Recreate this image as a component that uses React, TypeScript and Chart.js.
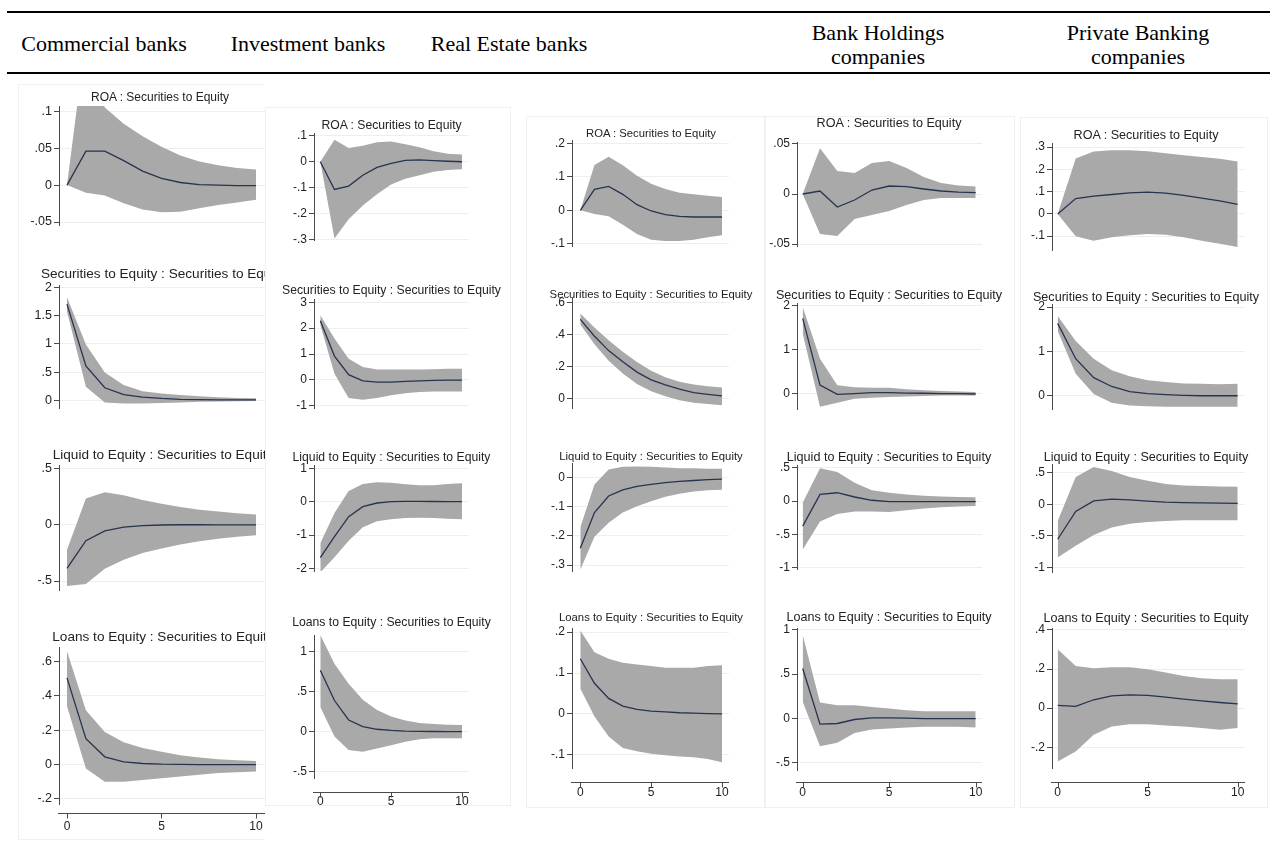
import React, { useEffect, useRef } from "react";
import { Chart, registerables } from "chart.js";
Chart.register(...registerables);

// ---------------- DATA ----------------
const steps = [0, 1, 2, 3, 4, 5, 6, 7, 8, 9, 10];
const xTickValues = [0, 5, 10];
const xTickLabels = ["0", "5", "10"];

const groupHeaders = [
  ["Commercial banks"],
  ["Investment banks"],
  ["Real Estate banks"],
  ["Bank Holdings", "companies"],
  ["Private Banking", "companies"],
];
const panelTitles = [
  "ROA : Securities to Equity",
  "Securities to Equity : Securities to Equity",
  "Liquid to Equity : Securities to Equity",
  "Loans to Equity : Securities to Equity",
];

// Commercial banks
const comRoaMean = [0, 0.046, 0.046, 0.033, 0.019, 0.009, 0.0035, 0.0007, 0, -0.0007, -0.0007];
const comRoaUp = [0, 0.2, 0.105, 0.083, 0.066, 0.052, 0.04, 0.032, 0.027, 0.023, 0.021];
const comRoaLo = [0, -0.0105, -0.014, -0.0245, -0.033, -0.0367, -0.036, -0.0315, -0.027, -0.0234, -0.02];
const comSecMean = [1.71, 0.61, 0.22, 0.1, 0.055, 0.03, 0.015, 0.01, 0.006, 0.004, 0.003];
const comSecUp = [1.83, 0.99, 0.49, 0.27, 0.16, 0.12, 0.09, 0.07, 0.05, 0.04, 0.035];
const comSecLo = [1.58, 0.24, -0.04, -0.06, -0.06, -0.05, -0.04, -0.03, -0.025, -0.02, -0.015];
const comLiqMean = [-0.387, -0.14, -0.052, -0.02, -0.006, 0, 0.002, 0.002, 0.001, 0.001, 0.001];
const comLiqUp = [-0.22, 0.237, 0.293, 0.265, 0.223, 0.19, 0.16, 0.136, 0.12, 0.105, 0.094];
const comLiqLo = [-0.545, -0.526, -0.39, -0.31, -0.25, -0.21, -0.174, -0.146, -0.122, -0.105, -0.092];
const comLoanMean = [0.505, 0.151, 0.045, 0.016, 0.006, 0.002, 0.001, 0, 0, 0, 0];
const comLoanUp = [0.66, 0.317, 0.19, 0.13, 0.097, 0.074, 0.054, 0.041, 0.031, 0.025, 0.021];
const comLoanLo = [0.34, -0.023, -0.1, -0.1, -0.09, -0.08, -0.07, -0.06, -0.05, -0.045, -0.04];

// Investment banks
const invRoaMean = [0, -0.107, -0.094, -0.052, -0.022, -0.006, 0.005, 0.007, 0.004, 0.002, 0];
const invRoaUp = [0, 0.085, 0.053, 0.062, 0.075, 0.078, 0.068, 0.056, 0.041, 0.031, 0.028];
const invRoaLo = [0, -0.296, -0.222, -0.169, -0.125, -0.088, -0.066, -0.052, -0.039, -0.032, -0.029];
const invSecMean = [2.29, 0.92, 0.2, -0.04, -0.09, -0.09, -0.06, -0.04, -0.02, -0.01, -0.01];
const invSecUp = [2.5, 1.6, 0.82, 0.5, 0.4, 0.4, 0.4, 0.4, 0.41, 0.43, 0.43];
const invSecLo = [2.12, 0.24, -0.7, -0.77, -0.7, -0.6, -0.52, -0.47, -0.45, -0.45, -0.45];
const invLiqMean = [-1.68, -1.05, -0.45, -0.15, -0.04, 0, 0.01, 0.01, 0.005, 0, 0];
const invLiqUp = [-1.25, -0.34, 0.32, 0.53, 0.58, 0.57, 0.52, 0.49, 0.49, 0.53, 0.55];
const invLiqLo = [-2.12, -1.67, -1.17, -0.77, -0.59, -0.53, -0.49, -0.48, -0.49, -0.51, -0.53];
const invLoanMean = [0.77, 0.39, 0.146, 0.063, 0.03, 0.017, 0.008, 0.004, 0.002, 0.001, 0];
const invLoanUp = [1.21, 0.85, 0.6, 0.4, 0.27, 0.19, 0.14, 0.11, 0.095, 0.088, 0.083];
const invLoanLo = [0.31, -0.06, -0.23, -0.25, -0.21, -0.17, -0.125, -0.095, -0.083, -0.083, -0.083];

// Real Estate banks
const reRoaMean = [0, 0.063, 0.072, 0.048, 0.017, -0.002, -0.013, -0.018, -0.02, -0.02, -0.02];
const reRoaUp = [0, 0.136, 0.161, 0.135, 0.104, 0.08, 0.064, 0.053, 0.048, 0.044, 0.04];
const reRoaLo = [0, -0.011, -0.018, -0.043, -0.071, -0.088, -0.092, -0.092, -0.088, -0.081, -0.075];
const reSecMean = [0.496, 0.39, 0.3, 0.23, 0.165, 0.117, 0.085, 0.058, 0.037, 0.026, 0.016];
const reSecUp = [0.533, 0.445, 0.365, 0.293, 0.229, 0.173, 0.133, 0.104, 0.088, 0.077, 0.069];
const reSecLo = [0.464, 0.34, 0.237, 0.157, 0.09, 0.045, 0.013, -0.011, -0.027, -0.035, -0.043];
const reLiqMean = [-0.242, -0.12, -0.063, -0.042, -0.03, -0.023, -0.017, -0.013, -0.01, -0.007, -0.005];
const reLiqUp = [-0.17, -0.024, 0.028, 0.037, 0.038, 0.037, 0.035, 0.032, 0.032, 0.03, 0.03];
const reLiqLo = [-0.316, -0.203, -0.155, -0.12, -0.098, -0.081, -0.066, -0.055, -0.048, -0.043, -0.042];
const reLoanMean = [0.135, 0.075, 0.038, 0.019, 0.011, 0.007, 0.005, 0.003, 0.002, 0.001, 0];
const reLoanUp = [0.204, 0.151, 0.135, 0.125, 0.121, 0.117, 0.113, 0.113, 0.113, 0.117, 0.119];
const reLoanLo = [0.062, -0.006, -0.055, -0.083, -0.091, -0.097, -0.101, -0.104, -0.106, -0.11, -0.118];

// Bank Holdings companies
const bhRoaMean = [0, 0.003, -0.013, -0.006, 0.004, 0.008, 0.0073, 0.005, 0.003, 0.0018, 0.0013];
const bhRoaUp = [0, 0.0457, 0.023, 0.021, 0.031, 0.033, 0.026, 0.017, 0.011, 0.0085, 0.0075];
const bhRoaLo = [0, -0.04, -0.042, -0.025, -0.021, -0.017, -0.011, -0.006, -0.004, -0.004, -0.004];
const bhSecMean = [1.71, 0.2, -0.01, 0.01, 0.03, 0.03, 0.02, 0.017, 0.01, 0.006, 0];
const bhSecUp = [1.97, 0.8, 0.2, 0.15, 0.14, 0.14, 0.11, 0.086, 0.069, 0.057, 0.046];
const bhSecLo = [1.37, -0.29, -0.2, -0.11, -0.086, -0.07, -0.057, -0.046, -0.034, -0.034, -0.034];
const bhLiqMean = [-0.376, 0.098, 0.124, 0.06, 0.011, -0.008, -0.008, -0.008, -0.008, -0.008, -0.008];
const bhLiqUp = [-0.026, 0.493, 0.436, 0.274, 0.162, 0.124, 0.098, 0.079, 0.068, 0.06, 0.056];
const bhLiqLo = [-0.733, -0.308, -0.195, -0.158, -0.158, -0.165, -0.139, -0.113, -0.094, -0.083, -0.075];
const bhLoanMean = [0.564, -0.064, -0.056, -0.011, 0.008, 0.008, 0.004, 0, 0, 0, 0];
const bhLoanUp = [0.94, 0.18, 0.15, 0.15, 0.13, 0.113, 0.094, 0.083, 0.083, 0.083, 0.083];
const bhLoanLo = [0.188, -0.312, -0.274, -0.162, -0.124, -0.113, -0.1, -0.094, -0.094, -0.094, -0.1];

// Private Banking companies
const pbRoaMean = [0, 0.069, 0.08, 0.087, 0.094, 0.098, 0.093, 0.083, 0.071, 0.058, 0.043];
const pbRoaUp = [0, 0.249, 0.28, 0.286, 0.286, 0.281, 0.272, 0.263, 0.255, 0.247, 0.235];
const pbRoaLo = [0, -0.1, -0.12, -0.105, -0.096, -0.09, -0.094, -0.105, -0.12, -0.134, -0.149];
const pbSecMean = [1.63, 0.83, 0.4, 0.2, 0.086, 0.04, 0.017, 0, -0.01, -0.01, -0.01];
const pbSecUp = [1.8, 1.23, 0.83, 0.57, 0.43, 0.34, 0.3, 0.27, 0.26, 0.25, 0.26];
const pbSecLo = [1.46, 0.49, 0.03, -0.17, -0.23, -0.25, -0.26, -0.26, -0.26, -0.26, -0.26];
const pbLiqMean = [-0.553, -0.115, 0.053, 0.082, 0.07, 0.049, 0.033, 0.025, 0.02, 0.016, 0.012];
const pbLiqUp = [-0.266, 0.43, 0.586, 0.525, 0.43, 0.369, 0.32, 0.295, 0.287, 0.279, 0.275];
const pbLiqLo = [-0.84, -0.656, -0.484, -0.369, -0.307, -0.279, -0.266, -0.254, -0.254, -0.254, -0.254];
const pbLoanMean = [0.014, 0.009, 0.043, 0.063, 0.068, 0.065, 0.056, 0.046, 0.037, 0.029, 0.022];
const pbLoanUp = [0.301, 0.216, 0.204, 0.209, 0.209, 0.199, 0.182, 0.165, 0.153, 0.148, 0.148];
const pbLoanLo = [-0.273, -0.221, -0.136, -0.094, -0.082, -0.082, -0.089, -0.094, -0.102, -0.111, -0.102];

// y tick values / labels / axis ranges per column (rows: ROA, Securities, Liquid, Loans)
const comTicks = [[-0.05, 0, 0.05, 0.1], [0, 0.5, 1, 1.5, 2], [-0.5, 0, 0.5], [-0.2, 0, 0.2, 0.4, 0.6]];
const comTickLabels = [["-.05", "0", ".05", ".1"], ["0", ".5", "1", "1.5", "2"], ["-.5", "0", ".5"], ["-.2", "0", ".2", ".4", ".6"]];
const comRanges = [[-0.054, 0.107], [-0.14, 2.05], [-0.58, 0.535], [-0.23, 0.685]];

const invTicks = [[-0.3, -0.2, -0.1, 0, 0.1], [-1, 0, 1, 2, 3], [-2, -1, 0, 1], [-0.5, 0, 0.5, 1]];
const invTickLabels = [["-.3", "-.2", "-.1", "0", ".1"], ["-1", "0", "1", "2", "3"], ["-2", "-1", "0", "1"], ["-.5", "0", ".5", "1"]];
const invRanges = [[-0.302, 0.111], [-1.09, 3.13], [-2.08, 1.1], [-0.58, 1.21]];

const reTicks = [[-0.1, 0, 0.1, 0.2], [0, 0.2, 0.4, 0.6], [-0.3, -0.2, -0.1, 0], [-0.1, 0, 0.1, 0.2]];
const reTickLabels = [["-.1", "0", ".1", ".2"], ["0", ".2", ".4", ".6"], ["-.3", "-.2", "-.1", "0"], ["-.1", "0", ".1", ".2"]];
const reRanges = [[-0.107, 0.211], [-0.06, 0.63], [-0.32, 0.05], [-0.132, 0.21]];

const bhTicks = [[-0.05, 0, 0.05], [0, 1, 2], [-1, -0.5, 0, 0.5], [-0.5, 0, 0.5, 1]];
const bhTickLabels = [["-.05", "0", ".05"], ["0", "1", "2"], ["-1", "-.5", "0", ".5"], ["-.5", "0", ".5", "1"]];
const bhRanges = [[-0.052, 0.052], [-0.34, 2.06], [-1.02, 0.54], [-0.58, 1.02]];

const pbTicks = [[-0.1, 0, 0.1, 0.2, 0.3], [0, 1, 2], [-1, -0.5, 0, 0.5], [-0.2, 0, 0.2, 0.4]];
const pbTickLabels = [["-.1", "0", ".1", ".2", ".3"], ["0", "1", "2"], ["-1", "-.5", "0", ".5"], ["-.2", "0", ".2", ".4"]];
const pbRanges = [[-0.162, 0.318], [-0.31, 2.07], [-1.07, 0.635], [-0.306, 0.41]];

const columnSeries = [
  { mean: [comRoaMean, comSecMean, comLiqMean, comLoanMean], up: [comRoaUp, comSecUp, comLiqUp, comLoanUp], lo: [comRoaLo, comSecLo, comLiqLo, comLoanLo], ticks: comTicks, labels: comTickLabels, ranges: comRanges },
  { mean: [invRoaMean, invSecMean, invLiqMean, invLoanMean], up: [invRoaUp, invSecUp, invLiqUp, invLoanUp], lo: [invRoaLo, invSecLo, invLiqLo, invLoanLo], ticks: invTicks, labels: invTickLabels, ranges: invRanges },
  { mean: [reRoaMean, reSecMean, reLiqMean, reLoanMean], up: [reRoaUp, reSecUp, reLiqUp, reLoanUp], lo: [reRoaLo, reSecLo, reLiqLo, reLoanLo], ticks: reTicks, labels: reTickLabels, ranges: reRanges },
  { mean: [bhRoaMean, bhSecMean, bhLiqMean, bhLoanMean], up: [bhRoaUp, bhSecUp, bhLiqUp, bhLoanUp], lo: [bhRoaLo, bhSecLo, bhLiqLo, bhLoanLo], ticks: bhTicks, labels: bhTickLabels, ranges: bhRanges },
  { mean: [pbRoaMean, pbSecMean, pbLiqMean, pbLoanMean], up: [pbRoaUp, pbSecUp, pbLiqUp, pbLoanUp], lo: [pbRoaLo, pbSecLo, pbLiqLo, pbLoanLo], ticks: pbTicks, labels: pbTickLabels, ranges: pbRanges },
];

// ---------------- LAYOUT (pixels) ----------------
const headerCenters = [
  { x: 104, y: [44] },
  { x: 308, y: [44] },
  { x: 509, y: [44] },
  { x: 878, y: [33, 57] },
  { x: 1138, y: [33, 57] },
];

const columnLayout = [
  {
    axisX: 59, right: 268, x0: 67, x10: 256, clip: 265, tickSize: 12.5,
    frame: { l: 18, t: 84, r: 290, b: 840 },
    rows: [
      { top: 106, bot: 259, ty: 97, tx: 160, ts: 12 },
      { top: 285, bot: 442, ty: 274, tx: 163, ts: 13.6 },
      { top: 465, bot: 624, ty: 455, tx: 163, ts: 13.6 },
      { top: 647, bot: 804, ty: 637, tx: 163, ts: 13.6 },
    ],
    xAxisY: 813, xLabelY: 827,
  },
  {
    axisX: 314, right: 469, x0: 320.3, x10: 462, clip: 0, tickSize: 12,
    frame: { l: 265, t: 107, r: 511, b: 806 },
    rows: [
      { top: 133, bot: 274, ty: 125, tx: 391.5, ts: 12.2 },
      { top: 299, bot: 442, ty: 290, tx: 391.5, ts: 12.2 },
      { top: 465, bot: 605, ty: 456.7, tx: 391.5, ts: 12.2 },
      { top: 635, bot: 778, ty: 622.3, tx: 391.5, ts: 12.2 },
    ],
    xAxisY: 792, xLabelY: 802,
  },
  {
    axisX: 572, right: 729, x0: 580.3, x10: 722, clip: 0, tickSize: 12,
    frame: { l: 526, t: 116, r: 765, b: 808 },
    rows: [
      { top: 140, bot: 280, ty: 134, tx: 651, ts: 11.3 },
      { top: 298, bot: 442, ty: 295, tx: 651, ts: 11.3 },
      { top: 463, bot: 605, ty: 456.7, tx: 651, ts: 11.3 },
      { top: 628, bot: 768, ty: 618.3, tx: 651, ts: 11.3 },
    ],
    xAxisY: 782, xLabelY: 793,
  },
  {
    axisX: 797, right: 982, x0: 802.7, x10: 975.7, clip: 0, tickSize: 12,
    frame: { l: 765, t: 116, r: 1015, b: 808 },
    rows: [
      { top: 142, bot: 280, ty: 123.3, tx: 889, ts: 12.6 },
      { top: 303, bot: 443, ty: 295, tx: 889, ts: 12.6 },
      { top: 465, bot: 603, ty: 456.7, tx: 889, ts: 12.6 },
      { top: 628, bot: 770, ty: 617.3, tx: 889, ts: 12.6 },
    ],
    xAxisY: 782, xLabelY: 793,
  },
  {
    axisX: 1052, right: 1245, x0: 1057.7, x10: 1237.7, clip: 0, tickSize: 12,
    frame: { l: 1020, t: 117, r: 1268, b: 808 },
    rows: [
      { top: 143, bot: 284, ty: 135, tx: 1146, ts: 12.6 },
      { top: 304, bot: 443, ty: 296.7, tx: 1146, ts: 12.6 },
      { top: 464, bot: 606, ty: 456.7, tx: 1146, ts: 12.6 },
      { top: 628, bot: 768, ty: 618.3, tx: 1146, ts: 12.6 },
    ],
    xAxisY: 782, xLabelY: 793,
  },
];

const YW = 40;
const PAD_T = 10;
const PAD_B = 10;
const PAD_R = 6;
const XH = 34;
const BAND = "#a9a9a9";
const LINE = "#27344f";
const AXIS = "#4a4a4a";
const GRID = "#eceff1";
const SANS = '"Liberation Sans", Arial, Helvetica, sans-serif';

type SubProps = { col: number; row: number };

function SubChart({ col, row }: SubProps) {
  const ref = useRef<HTMLCanvasElement | null>(null);
  const L = columnLayout[col];
  const R = L.rows[row];
  const S = columnSeries[col];
  const showX = row === 3;
  const left = L.axisX - YW;
  const width = L.right - L.axisX + YW + PAD_R;
  const top = R.top - PAD_T;
  const height = R.bot - R.top + PAD_T + PAD_B + (showX ? XH : 0);
  const k = (L.x10 - L.x0) / 10;
  const xMin = (L.axisX - L.x0) / k;
  const xMax = (L.right - L.x0) / k;

  useEffect(() => {
    const mean = S.mean[row];
    const up = S.up[row];
    const lo = S.lo[row];
    const ticks = S.ticks[row];
    const labels = S.labels[row];
    const [yMin, yMax] = S.ranges[row];
    const lineY = L.xAxisY - top;
    const labelFont = 12;
    const labelGap = Math.max(0, L.xLabelY - R.bot - labelFont * 0.6);

    const xAxisPlugin = {
      id: "xAxisLine",
      afterDraw(chart: any) {
        if (!showX) return;
        const { ctx, chartArea, scales } = chart;
        ctx.save();
        ctx.strokeStyle = AXIS;
        ctx.lineWidth = 1;
        ctx.beginPath();
        const yy = Math.round(lineY) + 0.5;
        ctx.moveTo(chartArea.left - 1, yy);
        ctx.lineTo(chartArea.right, yy);
        for (const v of xTickValues) {
          const px = Math.round(scales.x.getPixelForValue(v)) + 0.5;
          ctx.moveTo(px, yy);
          ctx.lineTo(px, yy + 5);
        }
        ctx.stroke();
        ctx.restore();
      },
    };

    const chart = new Chart(ref.current as HTMLCanvasElement, {
      type: "line",
      data: {
        datasets: [
          {
            data: steps.map((s, i) => ({ x: s, y: mean[i] })),
            borderColor: LINE,
            borderWidth: 1.3,
            pointRadius: 0,
            fill: false,
            tension: 0,
          },
          {
            data: steps.map((s, i) => ({ x: s, y: lo[i] })),
            borderColor: "rgba(0,0,0,0)",
            borderWidth: 0,
            pointRadius: 0,
            fill: false,
            tension: 0,
          },
          {
            data: steps.map((s, i) => ({ x: s, y: up[i] })),
            borderColor: "rgba(0,0,0,0)",
            borderWidth: 0,
            pointRadius: 0,
            backgroundColor: BAND,
            fill: "-1",
            tension: 0,
          },
        ],
      },
      options: {
        responsive: false,
        animation: false,
        devicePixelRatio: 1,
        events: [],
        layout: { padding: { left: 0, right: PAD_R, top: PAD_T, bottom: PAD_B } },
        plugins: { legend: { display: false }, tooltip: { enabled: false }, title: { display: false } },
        scales: {
          x: {
            type: "linear",
            min: xMin,
            max: xMax,
            display: showX,
            grid: { display: false, drawTicks: true, tickLength: labelGap },
            border: { display: false },
            afterBuildTicks: (s: any) => {
              s.ticks = xTickValues.map((v) => ({ value: v }));
            },
            afterFit: (s: any) => {
              s.height = XH;
            },
            ticks: {
              autoSkip: false,
              maxRotation: 0,
              padding: 0,
              color: "#222",
              font: { family: SANS, size: labelFont },
              callback: (v: any) => xTickLabels[xTickValues.indexOf(Number(v))],
            },
          },
          y: {
            type: "linear",
            min: yMin,
            max: yMax,
            afterBuildTicks: (s: any) => {
              s.ticks = ticks.map((v) => ({ value: v }));
            },
            afterFit: (s: any) => {
              s.width = YW;
            },
            grid: { color: GRID, lineWidth: 1, tickColor: AXIS, tickLength: 5, drawTicks: true },
            border: { display: true, color: AXIS, width: 1 },
            ticks: {
              autoSkip: false,
              padding: 2,
              color: "#222",
              font: { family: SANS, size: L.tickSize },
              callback: (v: any) => labels[ticks.indexOf(Number(v))],
            },
          },
        },
      } as any,
      plugins: [xAxisPlugin],
    });
    return () => chart.destroy();
  }, []);

  return (
    <canvas
      ref={ref}
      width={width}
      height={height}
      style={{ position: "absolute", left, top, width, height }}
    />
  );
}

function Column({ col }: { col: number }) {
  const L = columnLayout[col];
  const inner = (
    <>
      <div
        style={{
          position: "absolute",
          left: L.frame.l,
          top: L.frame.t,
          width: L.frame.r - L.frame.l,
          height: L.frame.b - L.frame.t,
          border: "1px solid #eef1f3",
          boxSizing: "border-box",
        }}
      />
      {L.rows.map((R, row) => (
        <React.Fragment key={row}>
          <SubChart col={col} row={row} />
          <div
            style={{
              position: "absolute",
              left: R.tx,
              top: R.ty,
              transform: "translate(-50%, -50%)",
              whiteSpace: "nowrap",
              fontFamily: SANS,
              fontSize: R.ts,
              lineHeight: 1,
              color: "#222",
            }}
          >
            {panelTitles[row]}
          </div>
        </React.Fragment>
      ))}
    </>
  );
  if (L.clip) {
    return (
      <div style={{ position: "absolute", left: 0, top: 0, width: L.clip, height: 845, overflow: "hidden" }}>
        {inner}
      </div>
    );
  }
  return inner;
}

export default function App() {
  return (
    <div
      style={{
        position: "absolute",
        left: 0,
        top: 0,
        width: 1277,
        height: 845,
        overflow: "hidden",
        background: "#ffffff",
      }}
    >
      <div style={{ position: "absolute", left: 7, top: 11, width: 1263, height: 2, background: "#000" }} />
      <div style={{ position: "absolute", left: 7, top: 72, width: 1263, height: 2, background: "#000" }} />
      {groupHeaders.map((lines, i) =>
        lines.map((t, j) => (
          <div
            key={i + "-" + j}
            style={{
              position: "absolute",
              left: headerCenters[i].x,
              top: headerCenters[i].y[j],
              transform: "translate(-50%, -50%)",
              whiteSpace: "nowrap",
              fontFamily: '"Liberation Serif", "Times New Roman", serif',
              fontSize: 22,
              lineHeight: 1,
              color: "#000",
            }}
          >
            {t}
          </div>
        ))
      )}
      {columnLayout.map((_, c) => (
        <Column key={c} col={c} />
      ))}
    </div>
  );
}
